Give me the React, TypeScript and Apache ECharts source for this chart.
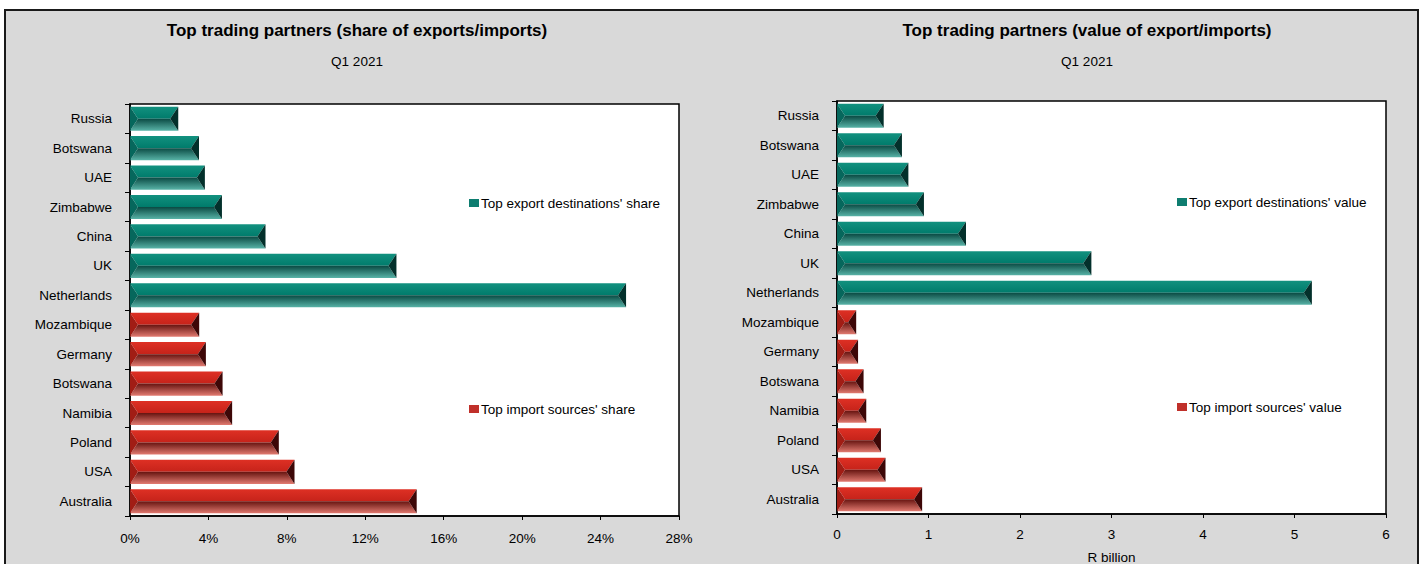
import React, { useEffect, useRef } from "react";
import * as echarts from "echarts";

const categories = [
  "Russia", "Botswana", "UAE", "Zimbabwe", "China", "UK", "Netherlands",
  "Mozambique", "Germany", "Botswana", "Namibia", "Poland", "USA", "Australia",
];
// share (%) — exports occupy first 7 categories, imports the last 7
const exportShare = [2.46, 3.52, 3.82, 4.69, 6.91, 13.59, 25.3];
const importShare = [3.53, 3.87, 4.72, 5.21, 7.59, 8.39, 14.62];
// value (R billion)
const exportValue = [0.51, 0.71, 0.78, 0.95, 1.41, 2.78, 5.19];
const importValue = [0.21, 0.23, 0.29, 0.32, 0.48, 0.53, 0.93];

const leftTicksMax = 28;
const rightTicksMax = 6;

const FONT = "'Liberation Sans Narrow', 'Arial Narrow', 'Liberation Sans', Arial, sans-serif";
const FS = 13.5;

const TEAL = {
  top: ["#12917f", "#007b6b"],
  bottom: ["#0a4a43", "#58b3a7"],
  left: "#06675c",
  right: "#03302b",
  legend: "#0e7d70",
};
const RED = {
  top: ["#de3024", "#c6231a"],
  bottom: ["#661410", "#e27a70"],
  left: "#a11d15",
  right: "#3d0707",
  legend: "#c0302a",
};

function grad(c0: string, c1: string) {
  return new echarts.graphic.LinearGradient(0, 0, 0, 1, [
    { offset: 0, color: c0 },
    { offset: 1, color: c1 },
  ]);
}

function makeRender(pal: typeof TEAL) {
  return (params: any, api: any) => {
    const idx = api.value(0);
    const val = api.value(1);
    const s = api.coord([0, idx]);
    const e = api.coord([val, idx]);
    const band = api.size([0, 1])[1];
    const h = band * 0.82;
    const x0 = s[0];
    const x1 = e[0];
    const ym = s[1];
    const y0 = ym - h / 2;
    const y1 = ym + h / 2;
    const b = Math.min(h / 3, (x1 - x0) / 2);
    return {
      type: "group",
      children: [
        {
          type: "polygon",
          shape: { points: [[x0, y0], [x1, y0], [x1 - b, ym], [x0 + b, ym]] },
          style: { fill: grad(pal.top[0], pal.top[1]) },
        },
        {
          type: "polygon",
          shape: { points: [[x0 + b, ym], [x1 - b, ym], [x1, y1], [x0, y1]] },
          style: { fill: grad(pal.bottom[0], pal.bottom[1]) },
        },
        {
          type: "polygon",
          shape: { points: [[x0, y0], [x0 + b, ym], [x0, y1]] },
          style: { fill: pal.left },
        },
        {
          type: "polygon",
          shape: { points: [[x1, y0], [x1, y1], [x1 - b, ym]] },
          style: { fill: pal.right },
        },
      ],
    };
  };
}

function seriesData(values: number[], offset: number) {
  return values.map((v, i) => [i + offset, v]);
}

export default function App() {
  const ref = useRef<HTMLDivElement>(null);

  useEffect(() => {
    if (!ref.current) return;
    const chart = echarts.init(ref.current, undefined, { renderer: "svg" });

    const yAxisBase = (gridIndex: number) => ({
      type: "category",
      gridIndex,
      data: categories,
      inverse: true,
      axisLine: { show: true, lineStyle: { color: "#000", width: 1.5 } },
      axisTick: { show: true, length: 5, lineStyle: { color: "#000" } },
      axisLabel: { color: "#000", fontSize: FS, fontFamily: FONT, margin: 18 },
      splitLine: { show: false },
    });

    const xAxisBase = (gridIndex: number, max: number, interval: number, margin: number) => ({
      type: "value",
      gridIndex,
      min: 0,
      max,
      interval,
      axisLine: { show: true, lineStyle: { color: "#000", width: 1.5 } },
      axisTick: { show: true, length: 4, lineStyle: { color: "#000" } },
      splitLine: { show: false },
      axisLabel: { color: "#000", fontSize: FS, fontFamily: FONT, margin },
    });

    const legendBase = {
      orient: "vertical",
      icon: "rect",
      itemWidth: 10,
      itemHeight: 8,
      itemGap: 4,
      textStyle: { color: "#000", fontSize: FS, fontFamily: FONT, padding: [0, 0, 0, -3] },
      padding: 0,
    };

    const leftX = xAxisBase(0, leftTicksMax, 4, 15);

    chart.setOption({
      animation: false,
      backgroundColor: "transparent",
      textStyle: { fontFamily: FONT },
      title: [
        {
          text: "Top trading partners (share of exports/imports)",
          left: 352,
          top: 17,
          textAlign: "center",
          textStyle: { fontSize: 17, fontWeight: "bold", color: "#000", fontFamily: FONT },
        },
        {
          text: "Q1 2021",
          left: 352,
          top: 49,
          textAlign: "center",
          textStyle: { fontSize: FS, fontWeight: "normal", color: "#000", fontFamily: FONT },
        },
        {
          text: "Top trading partners (value of export/imports)",
          left: 1082,
          top: 17,
          textAlign: "center",
          textStyle: { fontSize: 17, fontWeight: "bold", color: "#000", fontFamily: FONT },
        },
        {
          text: "Q1 2021",
          left: 1082,
          top: 49,
          textAlign: "center",
          textStyle: { fontSize: FS, fontWeight: "normal", color: "#000", fontFamily: FONT },
        },
      ],
      grid: [
        {
          left: 130, top: 104, width: 549, height: 412,
          outerBoundsMode: "none", containLabel: false,
          show: true, backgroundColor: "#fff", borderColor: "#000", borderWidth: 1.5,
        },
        {
          left: 837, top: 101, width: 549, height: 413,
          outerBoundsMode: "none", containLabel: false,
          show: true, backgroundColor: "#fff", borderColor: "#000", borderWidth: 1.5,
        },
      ],
      xAxis: [
        {
          ...leftX,
          axisLabel: { ...leftX.axisLabel, formatter: "{value}%" },
        },
        {
          ...xAxisBase(1, rightTicksMax, 1, 13),
          name: "R billion",
          nameLocation: "middle",
          nameGap: 36,
          nameTextStyle: { color: "#000", fontSize: FS, fontFamily: FONT },
        },
      ],
      yAxis: [yAxisBase(0), yAxisBase(1)],
      legend: [
        { ...legendBase, data: ["Top export destinations' share"], left: 469, top: 196 },
        { ...legendBase, data: ["Top import sources' share"], left: 469, top: 402 },
        { ...legendBase, data: ["Top export destinations' value"], left: 1177, top: 195 },
        { ...legendBase, data: ["Top import sources' value"], left: 1177, top: 400 },
      ],
      series: [
        {
          type: "custom",
          name: "Top export destinations' share",
          xAxisIndex: 0, yAxisIndex: 0,
          encode: { x: 1, y: 0 },
          itemStyle: { color: TEAL.legend },
          renderItem: makeRender(TEAL),
          data: seriesData(exportShare, 0),
        },
        {
          type: "custom",
          name: "Top import sources' share",
          xAxisIndex: 0, yAxisIndex: 0,
          encode: { x: 1, y: 0 },
          itemStyle: { color: RED.legend },
          renderItem: makeRender(RED),
          data: seriesData(importShare, 7),
        },
        {
          type: "custom",
          name: "Top export destinations' value",
          xAxisIndex: 1, yAxisIndex: 1,
          encode: { x: 1, y: 0 },
          itemStyle: { color: TEAL.legend },
          renderItem: makeRender(TEAL),
          data: seriesData(exportValue, 0),
        },
        {
          type: "custom",
          name: "Top import sources' value",
          xAxisIndex: 1, yAxisIndex: 1,
          encode: { x: 1, y: 0 },
          itemStyle: { color: RED.legend },
          renderItem: makeRender(RED),
          data: seriesData(importValue, 7),
        },
      ],
    });

    return () => chart.dispose();
  }, []);

  return (
    <div style={{ position: "fixed", left: 0, top: 0, width: 1423, height: 564, background: "#fff", overflow: "hidden" }}>
      <div
        style={{
          position: "absolute",
          left: 4,
          top: 9,
          width: 1411,
          height: 600,
          background: "#d9d9d9",
          border: "2px solid #1a1a1a",
        }}
      />
      <div ref={ref} style={{ position: "absolute", left: 0, top: 0, width: 1423, height: 564 }} />
    </div>
  );
}
